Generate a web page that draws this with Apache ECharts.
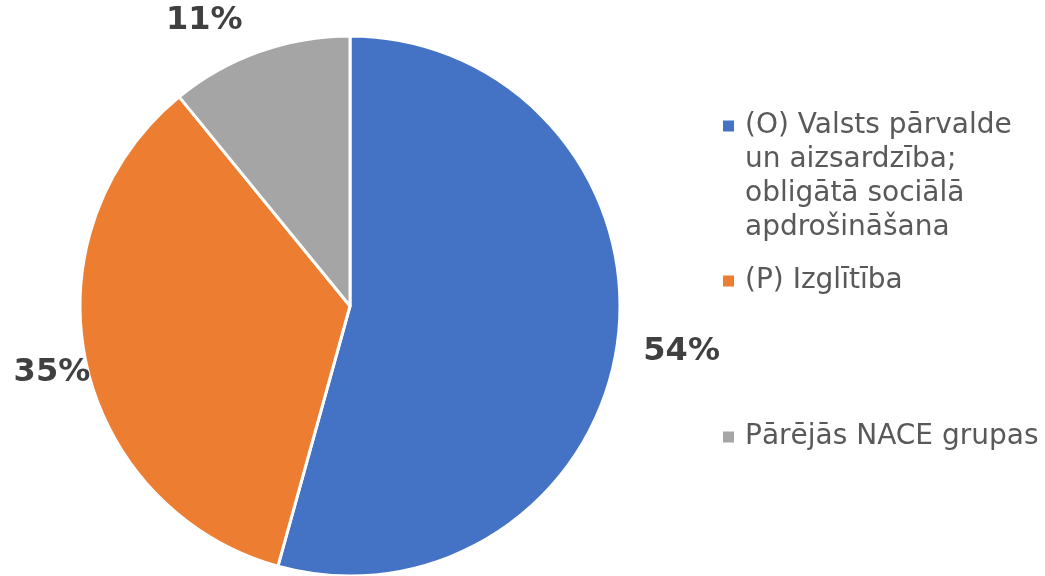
<!DOCTYPE html>
<html>
<head>
<meta charset="utf-8">
<style>
	html, body { margin: 0; padding: 0; background: #fff; }
	#main { width: 1045px; height: 576px; }
</style>
<script src="https://cdn.jsdelivr.net/npm/echarts@6/dist/echarts.min.js"></script>
</head>
<body>
<div id="main"></div>
<script>
// kategorijas un vērtības (nolasītas no attēla)
var categories = [
	'(O) Valsts pārvalde un aizsardzība; obligātā sociālā apdrošināšana',
	'(P) Izglītība',
	'Pārējās NACE grupas'
];
var legendLabels = [
	'(O) Valsts pārvalde\nun aizsardzība;\nobligātā sociālā\napdrošināšana',
	'(P) Izglītība',
	'Pārējās NACE grupas'
];
var values = [54.3, 34.8, 10.9];
var colors = ['#4472C4', '#ED7D31', '#A5A5A5'];

// etiķešu nobīde, lai tās stāvētu kā oriģinālā
var labelShift = [[6, 7], [24, 7], [-10, -12]];

var myChart = echarts.init(document.getElementById('main'));

var data = categories.map(function (name, i) {
	return { name: name, value: values[i] };
});

var LINE_H = 34;

function makeLegend(i, centerY) {
	var lines = legendLabels[i].split('\n');
	// tukšas rindas augšā, lai kvadrātiņš būtu pretī pirmajai rindai
	var pad = [];
	for (var k = 1; k < lines.length; k++) pad.push('');
	var text = pad.concat(lines).join('\n');
	var total = pad.length + lines.length;
	return {
		orient: 'vertical',
		left: 723,
		top: centerY - total * LINE_H / 2,
		padding: 0,
		data: [categories[i]],
		icon: 'rect',
		itemWidth: 11,
		itemHeight: 11,
		itemStyle: { borderWidth: 0 },
		selectedMode: false,
		formatter: function () { return text; },
		textStyle: {
			color: '#595959',
			fontSize: 28,
			fontFamily: 'DejaVu Sans',
			lineHeight: LINE_H,
			padding: [0, 0, 0, 6]
		}
	};
}

var option = {
	animation: false,
	color: colors,
	legend: [
		makeLegend(0, 126),
		makeLegend(1, 281),
		makeLegend(2, 437)
	],
	series: [
		{
			type: 'pie',
			center: [350, 306],
			radius: 270,
			startAngle: 90,
			clockwise: true,
			avoidLabelOverlap: false,
			data: data,
			itemStyle: {
				borderColor: '#ffffff',
				borderWidth: 3
			},
			label: {
				show: true,
				position: 'outside',
				distanceToLabelLine: 0,
				formatter: function (p) { return Math.round(p.percent) + '%'; },
				color: '#404040',
				fontSize: 32,
				fontWeight: 'bold',
				fontFamily: 'DejaVu Sans'
			},
			labelLine: {
				show: false,
				length: 20,
				length2: 0
			},
			labelLayout: function (p) {
				return { dx: labelShift[p.dataIndex][0], dy: labelShift[p.dataIndex][1] };
			},
			emphasis: { disabled: true }
		}
	]
};

myChart.setOption(option);
</script>
</body>
</html>
